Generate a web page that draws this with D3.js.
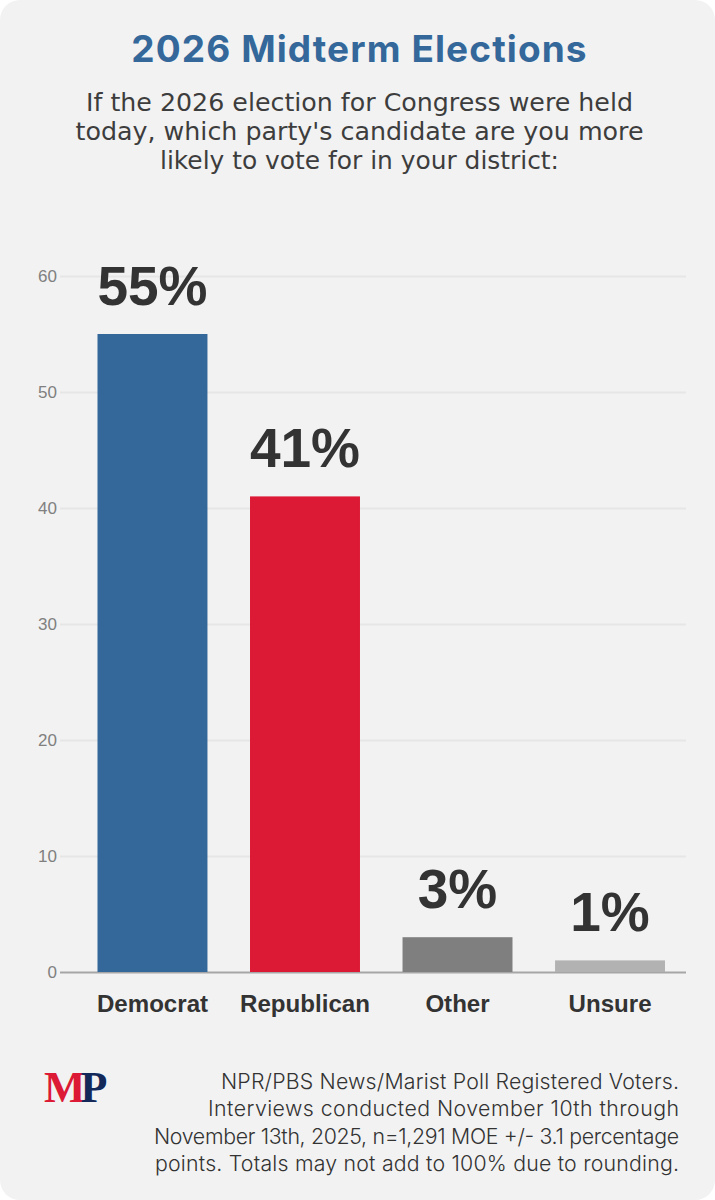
<!DOCTYPE html>
<html>
<head>
<meta charset="utf-8">
<script src="https://cdn.jsdelivr.net/npm/d3@7"></script>
<style>
  html, body { margin: 0; padding: 0; background: #fff; }
  svg { display: block; }
  .head { font-family: Inter, "Open Sans", sans-serif; }
  .question { font-family: "DejaVu Sans", sans-serif; }
  .bold { font-family: "Liberation Sans", Arial, sans-serif; font-weight: 700; fill: #333; }
</style>
</head>
<body>
<svg id="chart" width="715" height="1200"></svg>
<script>
// poll numbers
var categories = ["Democrat", "Republican", "Other", "Unsure"];
var values = [55, 41, 3, 1];
var barColors = ["#34689a", "#dc1a35", "#7f7f7f", "#b2b2b2"];
var yTicks = [0, 10, 20, 30, 40, 50, 60];

var title = "2026 Midterm Elections";
var subtitle = [
    "If the 2026 election for Congress were held",
    "today, which party's candidate are you more",
    "likely to vote for in your district:"
];
var source = [
    "NPR/PBS News/Marist Poll Registered Voters.",
    "Interviews conducted November 10th through",
    "November 13th, 2025, n=1,291 MOE +/- 3.1 percentage",
    "points. Totals may not add to 100% due to rounding."
];

var svg = d3.select("#chart");

// card
svg.append("rect")
    .attr("width", 715).attr("height", 1200)
    .attr("rx", 20).attr("fill", "#f2f2f2");

// heading
svg.append("text").attr("class", "head")
    .attr("x", 359.5).attr("y", 62)
    .attr("text-anchor", "middle")
    .attr("font-size", 37).attr("font-weight", 700)
    .attr("letter-spacing", 1.1)
    .attr("fill", "#34689a")
    .text(title);

// question
var subtitleWidths = [547, 568, 399];
svg.append("g").selectAll("text")
    .data(subtitle)
    .join("text")
    .attr("class", "question")
    .attr("x", 359.5)
    .attr("y", function (d, i) { return 110.5 + i * 29.3; })
    .attr("text-anchor", "middle")
    .attr("font-size", 24).attr("font-weight", 400)
    .attr("textLength", function (d, i) { return subtitleWidths[i]; })
    .attr("lengthAdjust", "spacingAndGlyphs")
    .attr("fill", "#3d3d3d")
    .text(function (d) { return d; });

// scales
var x = d3.scaleBand()
    .domain(categories)
    .range([76.25, 686.25])
    .paddingInner(0.279)
    .paddingOuter(0.1393);
var y = d3.scaleLinear().domain([0, 60]).range([972, 276]);

// y axis and gridlines
var yAxis = svg.append("g")
    .attr("transform", "translate(60,0)")
    .call(d3.axisLeft(y).tickValues(yTicks).tickSize(0).tickPadding(3));
yAxis.select(".domain").remove();
yAxis.selectAll("text")
    .attr("font-family", "'Liberation Sans', Arial, sans-serif")
    .attr("font-size", 17)
    .attr("fill", "#808080");
yAxis.selectAll(".tick line")
    .attr("x2", 626)
    .attr("stroke", function (d) { return d === 0 ? "#a6a6a6" : "#e6e6e6"; })
    .attr("stroke-width", 2);

// bars
svg.append("g").selectAll("rect")
    .data(values)
    .join("rect")
    .attr("x", function (d, i) { return x(categories[i]); })
    .attr("y", function (d) { return y(d); })
    .attr("width", x.bandwidth())
    .attr("height", function (d) { return y(0) - y(d); })
    .attr("fill", function (d, i) { return barColors[i]; });

// value labels
svg.append("g").selectAll("text")
    .data(values)
    .join("text")
    .attr("class", "bold")
    .attr("x", function (d, i) { return x(categories[i]) + x.bandwidth() / 2; })
    .attr("y", function (d) { return y(d) - 29; })
    .attr("text-anchor", "middle")
    .attr("font-size", 55)
    .text(function (d) { return d + "%"; });

// category labels
var xAxis = svg.append("g")
    .attr("transform", "translate(0,972)")
    .call(d3.axisBottom(x).tickSize(0).tickPadding(23));
xAxis.select(".domain").remove();
xAxis.selectAll("text")
    .attr("class", "bold")
    .attr("font-size", 24.1);

// logo
var logo = svg.append("text")
    .attr("x", 44).attr("y", 1102)
    .attr("font-family", "'Liberation Serif', serif")
    .attr("font-weight", 700)
    .attr("font-size", 44)
    .attr("letter-spacing", -5);
logo.append("tspan").attr("fill", "#dc1a35").text("M");
logo.append("tspan").attr("fill", "#12295a").text("P");

// source note, each line fitted to the width it has in the original
var sourceWidths = [458, 471, 525, 524];
svg.append("g").selectAll("text")
    .data(source)
    .join("text")
    .attr("class", "head")
    .attr("x", 679)
    .attr("y", function (d, i) { return 1088.5 + i * 27.5; })
    .attr("text-anchor", "end")
    .attr("font-size", 21.3).attr("font-weight", 300)
    .attr("textLength", function (d, i) { return sourceWidths[i]; })
    .attr("lengthAdjust", "spacing")
    .attr("fill", "#333")
    .text(function (d) { return d; });
</script>
</body>
</html>
